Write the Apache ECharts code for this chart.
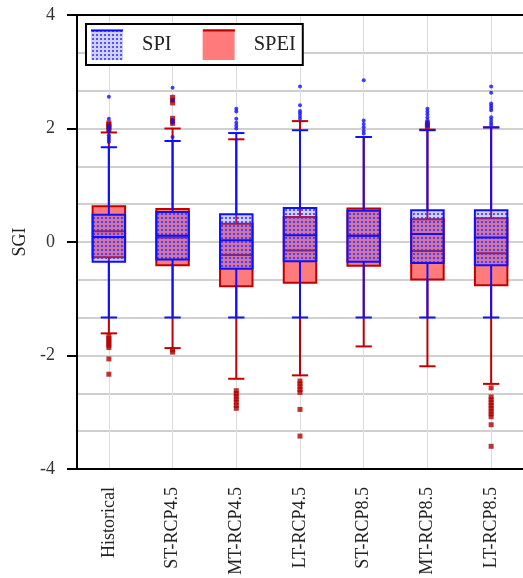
<!DOCTYPE html>
<html>
<head>
<meta charset="utf-8">
<script src="https://cdn.jsdelivr.net/npm/echarts@6/dist/echarts.min.js"></script>
<style>html,body{margin:0;padding:0;background:#fff}#c{width:523px;height:578px}</style>
</head>
<body>
<div id="c"></div>
<script>
const categories = ['Historical','ST-RCP4.5','MT-RCP4.5','LT-RCP4.5','ST-RCP8.5','MT-RCP8.5','LT-RCP8.5'];
const yTicks = [-4, -2, 0, 2, 4];

// SPI box statistics
const spiLow    = [-1.33, -1.33, -1.33, -1.33, -1.33, -1.33, -1.33];
const spiQ1     = [-0.35, -0.31, -0.47, -0.34, -0.35, -0.37, -0.41];
const spiMedian = [0.09, 0.11, 0.03, 0.12, 0.11, 0.14, 0.08];
const spiQ3     = [0.48, 0.53, 0.49, 0.60, 0.55, 0.56, 0.56];
const spiHigh   = [1.67, 1.78, 1.92, 1.97, 1.85, 1.97, 2.02];

// SPEI box statistics
const speiLow    = [-1.61, -1.87, -2.41, -2.35, -1.84, -2.19, -2.50];
const speiQ1     = [-0.27, -0.41, -0.78, -0.72, -0.42, -0.66, -0.76];
const speiMedian = [0.19, 0.08, -0.23, -0.15, 0.11, -0.16, -0.20];
const speiQ3     = [0.63, 0.58, 0.32, 0.44, 0.59, 0.40, 0.42];
const speiHigh   = [1.93, 2.00, 1.81, 2.13, 1.85, 1.98, 2.02];

// outliers per category
const spiOutliers = [
  [2.56, 2.17, 2.05, 2.00, 1.95, 1.88, 1.84, 1.80, 1.76],
  [2.72, 2.50, 2.15, 2.10, 1.85],
  [2.35, 2.30, 2.17, 2.10, 2.05, 2.00],
  [2.74, 2.41, 2.31, 2.27, 2.22, 2.17],
  [2.85, 2.14, 2.08, 2.02, 1.96, 1.91],
  [2.35, 2.30, 2.25, 2.20, 2.15, 2.10, 2.05],
  [2.74, 2.63, 2.44, 2.40, 2.36, 2.32, 2.20, 2.15, 2.10, 2.06]
];
const speiOutliers = [
  [2.10, 2.07, 2.04, 2.01, 1.98, -1.66, -1.70, -1.74, -1.78, -1.82, -1.86, -2.06, -2.33],
  [2.55, 2.50, 2.45, 2.18, 2.13, 2.09, -1.90, -1.94],
  [-2.62, -2.67, -2.72, -2.77, -2.82, -2.88, -2.93],
  [-2.45, -2.50, -2.55, -2.60, -2.65, -2.95, -3.42],
  [],
  [2.10, 2.06, 2.02],
  [-2.57, -2.73, -2.78, -2.83, -2.88, -2.93, -2.98, -3.03, -3.08, -3.22, -3.60]
];

const FONT = '"Liberation Serif", "Times New Roman", serif';
const BLUE = '#1010ff';
const RED = '#c00000';
const SALMON = '#ff7b7b';

// dotted pattern
const pc = document.createElement('canvas');
pc.width = 4; pc.height = 4;
const pctx = pc.getContext('2d');
pctx.fillStyle = 'rgba(100,100,255,0.30)';
pctx.fillRect(0, 0, 4, 4);
pctx.fillStyle = 'rgba(50,50,255,0.80)';
pctx.fillRect(1, 1, 2, 2);
const dotPattern = { image: pc, repeat: 'repeat' };

function boxData(low, q1, med, q3, high) {
  return categories.map((c, i) => [i, low[i], q1[i], med[i], q3[i], high[i]]);
}
function outlierData(arr) {
  const out = [];
  arr.forEach((vals, i) => vals.forEach(v => out.push([i, v])));
  return out;
}

function makeRender(stroke, fill) {
  return function (params, api) {
    const x = api.value(0);
    const pLow = api.coord([x, api.value(1)]);
    const pQ1 = api.coord([x, api.value(2)]);
    const pMed = api.coord([x, api.value(3)]);
    const pQ3 = api.coord([x, api.value(4)]);
    const pHigh = api.coord([x, api.value(5)]);
    const band = api.size([1, 0])[0];
    const bw = band * 0.51;
    const cap = bw * 0.25;
    const cx = pMed[0];
    const ls = { stroke: stroke, lineWidth: 2 };
    return {
      type: 'group',
      children: [
        { type: 'line', shape: { x1: cx, y1: pQ3[1], x2: cx, y2: pHigh[1] }, style: ls },
        { type: 'line', shape: { x1: cx, y1: pQ1[1], x2: cx, y2: pLow[1] }, style: ls },
        { type: 'line', shape: { x1: cx - cap, y1: pHigh[1], x2: cx + cap, y2: pHigh[1] }, style: ls },
        { type: 'line', shape: { x1: cx - cap, y1: pLow[1], x2: cx + cap, y2: pLow[1] }, style: ls },
        { type: 'rect', shape: { x: cx - bw / 2, y: pQ3[1], width: bw, height: pQ1[1] - pQ3[1] },
          style: { fill: fill, stroke: stroke, lineWidth: 2 } },
        { type: 'line', shape: { x1: cx - bw / 2, y1: pMed[1], x2: cx + bw / 2, y2: pMed[1] }, style: ls }
      ]
    };
  };
}

const chart = echarts.init(document.getElementById('c'), null, { renderer: 'canvas' });
chart.setOption({
  animation: false,
  backgroundColor: '#fff',
  grid: { left: 77, top: 15, width: 451, height: 454 },
  legend: {
    left: 86, top: 24,
    padding: [5, 7, 5, 5],
    itemWidth: 32, itemHeight: 31, itemGap: 31,
    borderColor: '#000', borderWidth: 2, backgroundColor: '#fff',
    textStyle: { fontFamily: FONT, fontSize: 20.5, color: '#222', padding: [0, 0, 0, 14] },
    data: [
      { name: 'SPI', icon: 'rect', itemStyle: { color: dotPattern, borderWidth: 0 } },
      { name: 'SPEI', icon: 'rect', itemStyle: { color: SALMON, borderWidth: 0 } }
    ]
  },
  graphic: [
    { type: 'line', z: 100, shape: { x1: 91, y1: 30.5, x2: 123, y2: 30.5 }, style: { stroke: BLUE, lineWidth: 2 } },
    { type: 'line', z: 100, shape: { x1: 203, y1: 30.5, x2: 235, y2: 30.5 }, style: { stroke: RED, lineWidth: 2 } }
  ],
  xAxis: [{
    type: 'category',
    data: categories,
    boundaryGap: true,
    position: 'bottom',
    axisLine: { onZero: false, lineStyle: { color: '#000', width: 2 } },
    axisTick: { alignWithLabel: true, length: 9, lineStyle: { color: '#000', width: 2 } },
    axisLabel: { rotate: 90, margin: 18, fontFamily: FONT, fontSize: 18, color: '#222', interval: 0 },
    splitLine: { show: true, alignWithLabel: true, lineStyle: { color: '#dcdcdc', width: 1 } }
  }, {
    type: 'category',
    data: categories,
    position: 'top',
    axisLine: { onZero: false, lineStyle: { color: '#000', width: 2 } },
    axisTick: { show: false },
    axisLabel: { show: false },
    splitLine: { show: false }
  }],
  yAxis: {
    type: 'value',
    min: -4, max: 4, interval: 2,
    name: 'SGI',
    nameLocation: 'middle',
    nameGap: 42,
    nameTextStyle: { fontFamily: FONT, fontSize: 18, color: '#222' },
    axisLine: { show: true, onZero: false, lineStyle: { color: '#000', width: 2 } },
    axisTick: { show: true, length: 10, lineStyle: { color: '#000', width: 2 } },
    axisLabel: { margin: 22, fontFamily: FONT, fontSize: 18, color: '#333' },
    splitLine: { show: true, lineStyle: { color: '#c0c0c0', width: 1.5 } },
    minorTick: { show: false, splitNumber: 3 },
    minorSplitLine: { show: true, lineStyle: { color: '#c0c0c0', width: 1.5 } }
  },
  series: [
    {
      name: 'SPEI', type: 'custom', renderItem: makeRender(RED, SALMON),
      itemStyle: { color: SALMON },
      encode: { x: 0, y: [1, 2, 3, 4, 5] },
      data: boxData(speiLow, speiQ1, speiMedian, speiQ3, speiHigh), z: 2
    },
    {
      name: 'SPEI outliers', type: 'scatter', symbol: 'rect', symbolSize: 5,
      itemStyle: { color: '#b30000' }, data: outlierData(speiOutliers), z: 3
    },
    {
      name: 'SPI', type: 'custom', renderItem: makeRender(BLUE, dotPattern),
      itemStyle: { color: BLUE },
      encode: { x: 0, y: [1, 2, 3, 4, 5] },
      data: boxData(spiLow, spiQ1, spiMedian, spiQ3, spiHigh), z: 4
    },
    {
      name: 'SPI outliers', type: 'scatter', symbol: 'circle', symbolSize: 4,
      itemStyle: { color: BLUE }, data: outlierData(spiOutliers), z: 5
    }
  ]
});
</script>
</body>
</html>
